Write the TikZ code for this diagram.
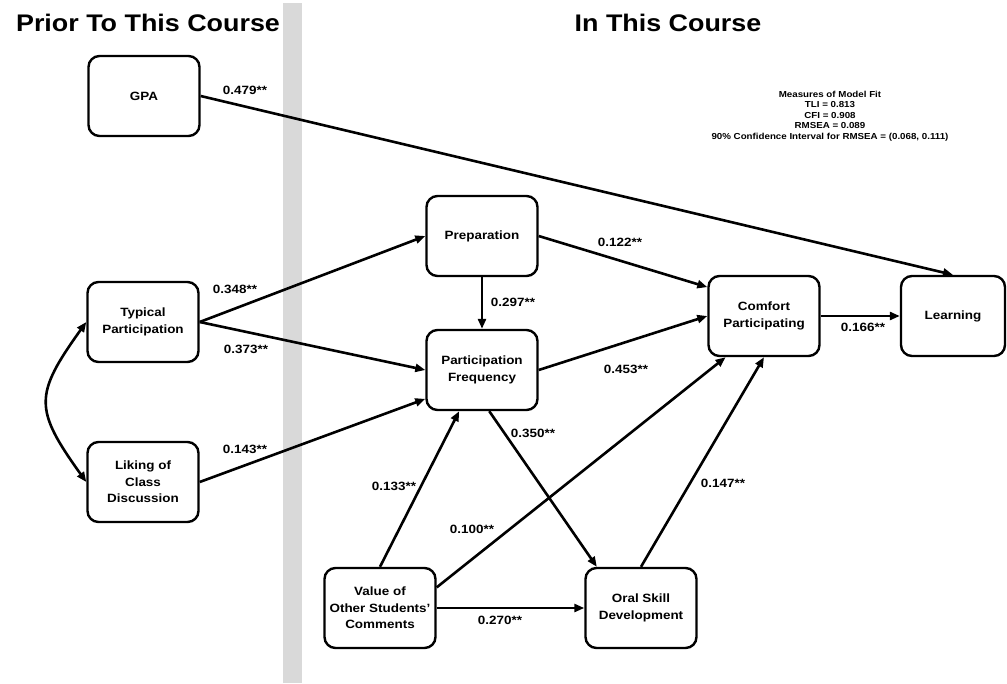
\documentclass[tikz,border=0pt]{standalone}
\usepackage{fontspec}
\setmainfont{Liberation Sans}[FakeStretch=1.12]
\usetikzlibrary{arrows.meta}

\begin{document}
\begin{tikzpicture}[x=1pt,y=-1pt,
        var/.style={draw,line width=2.4pt,rounded corners=11pt,minimum width=111pt,minimum height=80pt,
                    align=center,inner sep=2pt,font=\fontsize{12}{16.5}\selectfont\bfseries},
        eff/.style={line width=2.6pt,-{Triangle[length=10pt,width=8pt]}},
        coef/.style={inner sep=0pt,font=\fontsize{12}{14}\selectfont\bfseries},
        head/.style={anchor=base,inner sep=0pt,font=\fontsize{24}{28}\selectfont\bfseries}]
        \useasboundingbox (0,0) rectangle (1007,683);

        % the divide between the two periods
        \fill[black!15] (283,3) rectangle (302,683);
        \node[head] (prior) at (148,31) {Prior To This Course};
        \node[head] (now)   at (668,31) {In This Course};

        % variables
        \node[var] (gpa)  at (144,96)  {GPA};
        \node[var] (tp)   at (143,322) {Typical\\Participation};
        \node[var] (lk)   at (143,482) {Liking of\\Class\\Discussion};
        \node[var] (prep) at (482,236) {Preparation};
        \node[var] (pf)   at (482,370) {Participation\\Frequency};
        \node[var] (cp)   at (764,316) {Comfort\\Participating};
        \node[var,minimum width=104pt] (lrn) at (953,316) {Learning};
        \node[var] (val)  at (380,608) {Value of\\Other Students'\\Comments};
        \node[var] (osd)  at (641,608) {Oral Skill\\Development};

        % paths
        \draw[eff] (gpa.east) -- (lrn.north);
        \draw[eff] (tp.east) -- (prep.west);
        \draw[eff] (tp.east) -- (pf.west);
        \draw[eff] (lk.east) -- (pf.207);
        \draw[eff] (prep.south) -- (pf.north);
        \draw[eff] (prep.east) -- (cp.153);
        \draw[eff] (pf.east) -- (cp.west);
        \draw[eff] (cp.east) -- (lrn.west);
        \draw[eff] (pf.280) -- (osd.137);
        \draw[eff] (val.north) -- (pf.241);
        \draw[eff] (val.20) -- (cp.227);
        \draw[eff] (val.east) -- (osd.west);
        \draw[eff] (osd.north) -- (cp.south);
        \draw[eff,{Triangle[length=10pt,width=8pt]}-{Triangle[length=10pt,width=8pt]}]
              (tp.west) .. controls (34,395) and (34,409) .. (lk.west);

        % coefficients
        \node[coef] (c479) at (245,90)  {0.479**};
        \node[coef] (c348) at (235,289) {0.348**};
        \node[coef] (c373) at (246,349) {0.373**};
        \node[coef] (c143) at (245,449) {0.143**};
        \node[coef] (c297) at (513,302) {0.297**};
        \node[coef] (c122) at (620,242) {0.122**};
        \node[coef] (c453) at (626,369) {0.453**};
        \node[coef] (c166) at (863,327) {0.166**};
        \node[coef] (c350) at (533,433) {0.350**};
        \node[coef] (c147) at (723,483) {0.147**};
        \node[coef] (c100) at (472,529) {0.100**};
        \node[coef] (c133) at (394,486) {0.133**};
        \node[coef] (c270) at (500,620) {0.270**};

        \node[align=center,inner sep=0pt,font=\fontsize{8.7}{10.6}\selectfont\bfseries] (fit) at (830,116)
              {Measures of Model Fit\\TLI = 0.813\\CFI = 0.908\\RMSEA = 0.089\\90\% Confidence Interval for RMSEA = (0.068, 0.111)};
\end{tikzpicture}
\end{document}
